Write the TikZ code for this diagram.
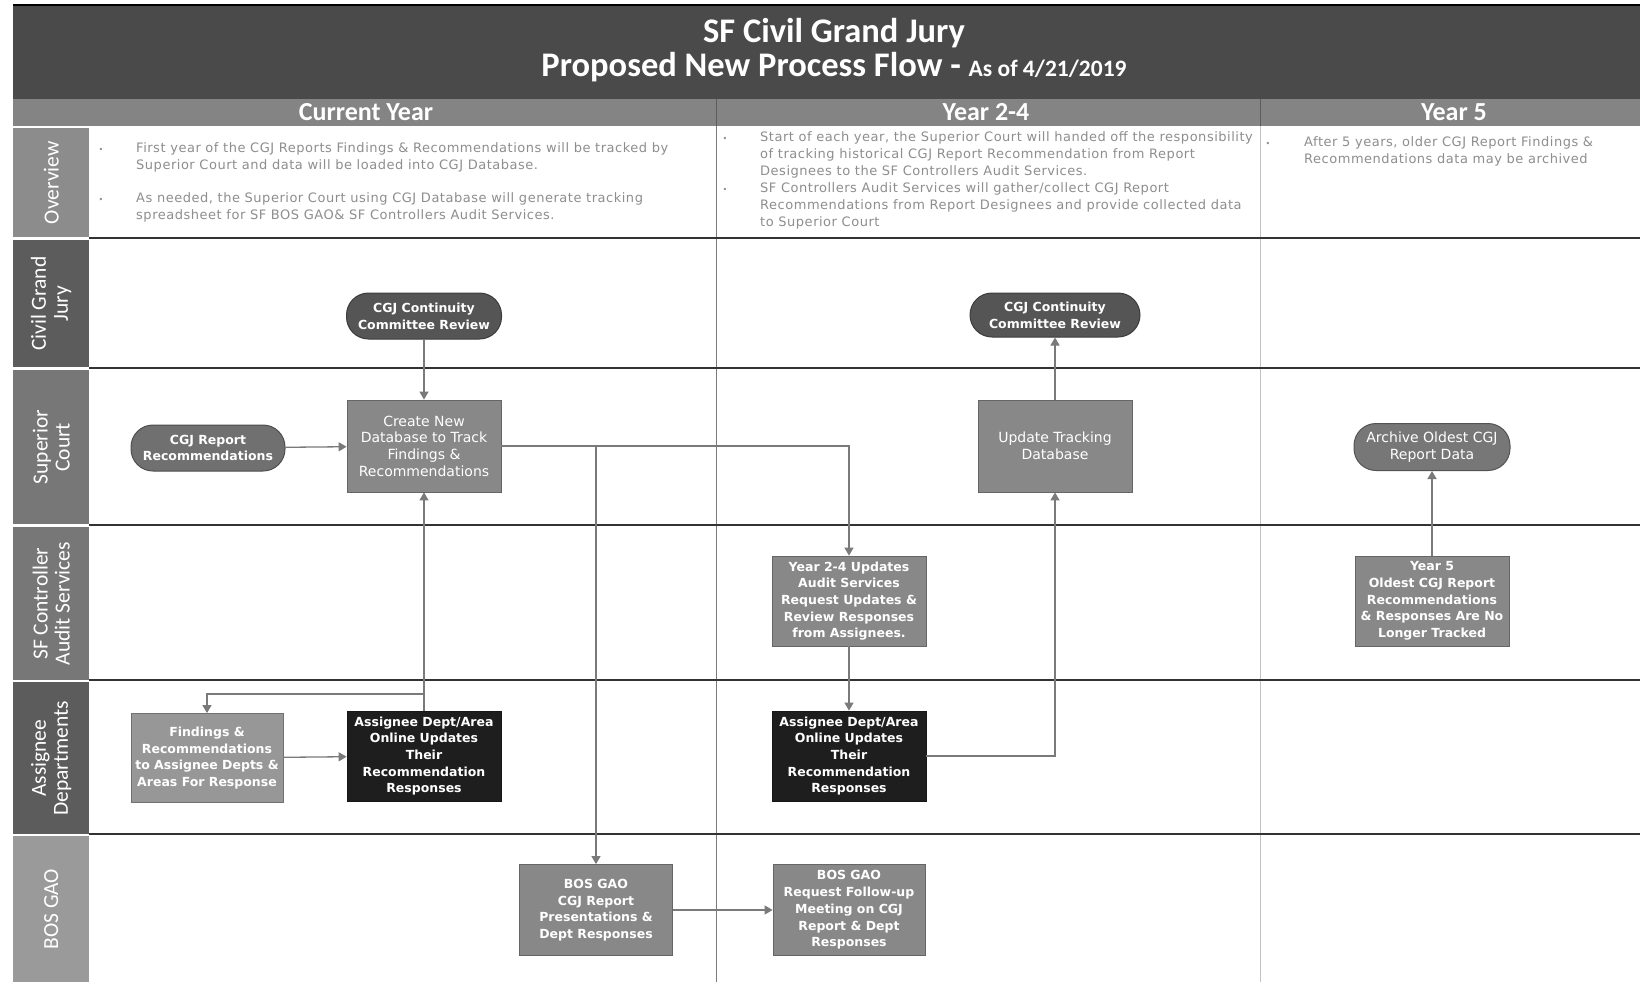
\documentclass[tikz,border=0pt]{standalone}
\usepackage{fontspec}
\setmainfont{DejaVu Sans}
\newfontfamily\calfont{Carlito}
\newfontfamily\ovfamily[LetterSpace=4]{DejaVu Sans}
\usetikzlibrary{arrows.meta,shapes.misc}
\definecolor{bannerc}{HTML}{4A4A4A}
\definecolor{headc}{HTML}{848484}
\definecolor{lanedark}{HTML}{5C5C5C}
\definecolor{lanemid}{HTML}{777777}
\definecolor{lanelight}{HTML}{8C8C8C}
\definecolor{lanepale}{HTML}{9A9A9A}
\definecolor{pilldark}{HTML}{555555}
\definecolor{pillmid}{HTML}{707070}
\definecolor{boxmid}{HTML}{888888}
\definecolor{boxpale}{HTML}{979797}
\definecolor{boxblack}{HTML}{1E1E1E}
\definecolor{ovtext}{HTML}{8E8E8E}
\definecolor{linec}{HTML}{333333}
\definecolor{arrowc}{HTML}{7A7A7A}
\newcommand\boxreg{\fontsize{14}{16.7}\selectfont}
\newcommand\boxbold{\bfseries\fontsize{12.5}{16.7}\selectfont}
\newcommand\ovfont{\ovfamily\fontsize{13}{16.8}\selectfont}
\begin{document}
\begin{tikzpicture}[x=1pt,y=-1pt,
  lanelabel/.style={fill=#1, minimum width=76pt, inner sep=0pt, anchor=north west},
  lanetext/.style={rotate=90, text=white, align=center, font=\calfont\fontsize{21.5}{22}\selectfont},
  headtext/.style={text=white, font=\calfont\bfseries\fontsize{26}{27}\selectfont},
  ovline/.style={anchor=base west, text=ovtext, font=\ovfont, inner sep=0pt},
  ovbullet/.style={anchor=base, text=ovtext, font=\fontsize{8}{8}\selectfont, inner sep=0pt},
  procbox/.style={rectangle, draw=#1!75!black, fill=#1, line width=0.8pt, minimum width=154pt, minimum height=90pt, text=white, align=center, inner sep=1pt},
  pill/.style={rectangle, rounded corners=22pt, draw=#1!70!black, fill=#1, line width=1pt, minimum width=155pt, minimum height=46pt, text=white, align=center, inner sep=1pt},
  flow/.style={draw=arrowc, line width=1.3pt, -{Triangle[width=9pt,length=8pt]}},
  laneline/.style={draw=linec, line width=1.5pt},
  colline/.style={draw=#1, line width=0.8pt}
]
\useasboundingbox (0,0) rectangle (1640,982);
\fill[white] (0,0) rectangle (1640,982);

% banner
\fill[bannerc] (13,5) rectangle (1640,99);
\draw[black, line width=1.5pt] (13,5) -- (1640,5);
\node[text=white, font=\calfont\bfseries\fontsize{34.5}{36}\selectfont] (title1) at (834,33) {SF Civil Grand Jury};
\node[text=white, font=\calfont\bfseries\fontsize{34.5}{36}\selectfont] (title2) at (834,67) {Proposed New Process Flow - {\fontsize{23.5}{24}\selectfont As of 4/21/2019}};

% header row
\fill[headc] (13,99) rectangle (1640,126);
\draw[colline=lanedark] (716,99) -- (716,126);
\draw[colline=lanedark] (1260,99) -- (1260,126);
\node[headtext] (h1) at (366,112) {Current Year};
\node[headtext] (h2) at (986,112) {Year 2-4};
\node[headtext] (h3) at (1454,112) {Year 5};

% lane labels
\node[lanelabel=lanelight, minimum height=109pt] (l0) at (13,128) {};
\node[lanelabel=lanedark, minimum height=127pt] (l1) at (13,240) {};
\node[lanelabel=lanemid, minimum height=154pt] (l2) at (13,370) {};
\node[lanelabel=lanemid, minimum height=153pt] (l3) at (13,527) {};
\node[lanelabel=lanedark, minimum height=152pt] (l4) at (13,682) {};
\node[lanelabel=lanepale, minimum height=146pt] (l5) at (13,836) {};
\node[lanetext] at (l0.center) {Overview};
\node[lanetext] at (l1.center) {Civil Grand\\Jury};
\node[lanetext] at (l2.center) {Superior\\Court};
\node[lanetext] at (l3.center) {SF Controller\\Audit Services};
\node[lanetext] at (l4.center) {Assignee\\Departments};
\node[lanetext] at (l5.center) {BOS GAO};

% grid lines
\draw[colline=arrowc] (716,126) -- (716,982);
\draw[colline=lanepale!60!white] (1260,126) -- (1260,982);
\draw[laneline] (89,238) -- (1640,238);
\draw[laneline] (89,368) -- (1640,368);
\draw[laneline] (89,525) -- (1640,525);
\draw[laneline] (89,680) -- (1640,680);
\draw[laneline] (89,834) -- (1640,834);

% overview text
\node[ovbullet] at (101,152) {•};
\node[ovline] at (136,152) {First year of the CGJ Reports Findings \& Recommendations will be tracked by};
\node[ovline] at (136,169) {Superior Court and data will be loaded into CGJ Database.};
\node[ovbullet] at (101,202) {•};
\node[ovline] at (136,202) {As needed, the Superior Court using CGJ Database will generate tracking};
\node[ovline] at (136,219) {spreadsheet for SF BOS GAO\& SF Controllers Audit Services.};

\node[ovbullet] at (725,141) {•};
\node[ovline] at (760,141) {Start of each year, the Superior Court will handed off the responsibility};
\node[ovline] at (760,158) {of tracking historical CGJ Report Recommendation from Report};
\node[ovline] at (760,175) {Designees to the SF Controllers Audit Services.};
\node[ovbullet] at (725,192) {•};
\node[ovline] at (760,192) {SF Controllers Audit Services will gather/collect CGJ Report};
\node[ovline] at (760,209) {Recommendations from Report Designees and provide collected data};
\node[ovline] at (760,226) {to Superior Court};

\node[ovbullet] at (1268,146) {•};
\node[ovline] at (1304,146) {After 5 years, older CGJ Report Findings \&};
\node[ovline] at (1304,163) {Recommendations data may be archived};

% nodes
\node[pill=pilldark, font=\boxbold] (cgj1) at (424,316) {CGJ Continuity\\Committee Review};
\node[pill=pilldark, font=\boxbold, minimum width=170pt, minimum height=44pt] (cgj2) at (1055,315) {CGJ Continuity\\Committee Review};
\node[pill=pillmid, font=\boxbold, minimum width=154pt] (rep) at (208,448) {CGJ Report\\Recommendations};
\node[procbox=boxmid, font=\boxreg, minimum height=92pt] (create) at (424,446) {Create New\\Database to Track\\Findings \&\\Recommendations};
\node[procbox=boxmid, font=\boxreg, minimum height=92pt] (update) at (1055,446) {Update Tracking\\Database};
\node[pill=lanemid, font=\boxreg, minimum width=156pt, minimum height=47pt] (archive) at (1432,447) {Archive Oldest CGJ\\Report Data};
\node[procbox=boxmid, font=\boxbold] (y24) at (849,601) {Year 2-4 Updates\\Audit Services\\Request Updates \&\\Review Responses\\from Assignees.};
\node[procbox=boxmid, font=\boxbold] (y5) at (1432,601) {Year 5\\Oldest CGJ Report\\Recommendations\\\& Responses Are No\\Longer Tracked};
\node[procbox=boxpale, font=\boxbold, minimum width=152pt, minimum height=89pt] (find) at (207,758) {Findings \&\\Recommendations\\to Assignee Depts \&\\Areas For Response};
\node[procbox=boxblack, font=\boxbold] (asg1) at (424,756) {Assignee Dept/Area\\Online Updates\\Their\\Recommendation\\Responses};
\node[procbox=boxblack, font=\boxbold] (asg2) at (849,756) {Assignee Dept/Area\\Online Updates\\Their\\Recommendation\\Responses};
\node[procbox=boxmid, font=\boxbold, minimum width=153pt, minimum height=91pt] (bos1) at (596,910) {BOS GAO\\CGJ Report\\Presentations \&\\Dept Responses};
\node[procbox=boxmid, font=\boxbold, minimum width=152pt, minimum height=91pt] (bos2) at (849,910) {BOS GAO\\Request Follow-up\\Meeting on CGJ\\Report \& Dept\\Responses};

% connectors
\draw[flow] (cgj1) -- (create);
\draw[flow] (rep) -- (create);
\draw[flow] (create.east) -| (y24.north);
\draw[flow] (create.east -| bos1.north) -- (bos1.north);
\draw[flow] (asg1.north) -- (create.south);
\coordinate (j1) at (424,694);
\draw[flow] (j1) -| (find.north);
\draw[flow] (find) -- (asg1);
\draw[flow] (y24) -- (asg2);
\draw[flow] (asg2.east) -| (update.south);
\draw[flow] (update) -- (cgj2);
\draw[flow] (y5) -- (archive);
\draw[flow] (bos1) -- (bos2);
\end{tikzpicture}
\end{document}
